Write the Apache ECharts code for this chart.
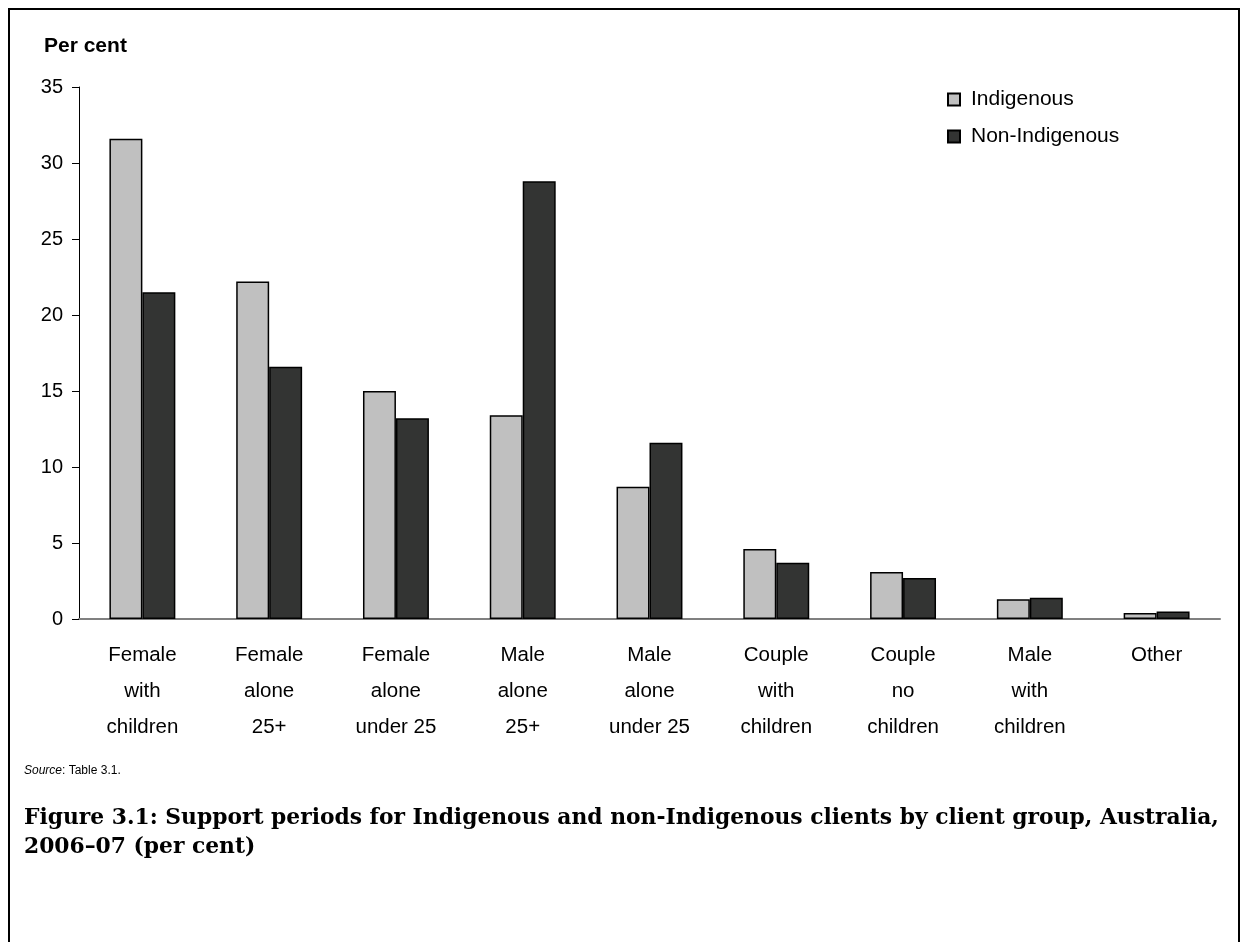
<!DOCTYPE html>
<html>
<head>
<meta charset="utf-8">
<script src="https://cdn.jsdelivr.net/npm/echarts@6/dist/echarts.min.js"></script>
<style>
html,body{margin:0;padding:0;background:#fff;}
#chart{width:1245px;height:942px;}
</style>
</head>
<body>
<div id="chart"></div>
<script>
const categories = ['Female\nwith\nchildren','Female\nalone\n25+','Female\nalone\nunder 25','Male\nalone\n25+','Male\nalone\nunder 25','Couple\nwith\nchildren','Couple\nno\nchildren','Male\nwith\nchildren','Other'];
const indigenous = [31.6, 22.2, 15.0, 13.4, 8.7, 4.6, 3.1, 1.3, 0.4];
const nonIndigenous = [21.5, 16.6, 13.2, 28.8, 11.6, 3.7, 2.7, 1.4, 0.5];
const yTicks = {min: 0, max: 35, interval: 5};

const FONT = "'Liberation Sans', Arial, sans-serif";
const chart = echarts.init(document.getElementById('chart'), null, {renderer: 'canvas'});
chart.setOption({
  animation: false,
  backgroundColor: '#fff',
  textStyle: {fontFamily: FONT, color: '#000'},
  grid: {left: 79, right: 25, top: 87, bottom: 323, containLabel: false},
  legend: {
    orient: 'vertical', left: 942, top: 84,
    itemWidth: 12, itemHeight: 12, itemGap: 16,
    icon: 'rect',
    textStyle: {fontFamily: FONT, fontSize: 21, color: '#000', padding: [0,0,0,6]},
    data: ['Indigenous', 'Non-Indigenous']
  },
  xAxis: {
    type: 'category', data: categories,
    axisLine: {lineStyle: {color: '#808080', width: 2}},
    axisTick: {show: false},
    axisLabel: {fontFamily: FONT, fontSize: 20.5, color: '#000', lineHeight: 36, margin: 18, interval: 0}
  },
  yAxis: {
    type: 'value', min: yTicks.min, max: yTicks.max, interval: yTicks.interval,
    splitLine: {show: false},
    axisLine: {show: true, lineStyle: {color: '#000', width: 1}},
    axisTick: {show: true, length: 7, lineStyle: {color: '#000'}},
    axisLabel: {fontFamily: FONT, fontSize: 20, color: '#000', margin: 16}
  },
  series: [
    {name: 'Indigenous', type: 'bar', data: indigenous, barWidth: '26%', barGap: '0%',
     itemStyle: {color: '#c0c0c0', borderColor: '#000', borderWidth: 1.5}},
    {name: 'Non-Indigenous', type: 'bar', data: nonIndigenous, barWidth: '26%',
     itemStyle: {color: '#333433', borderColor: '#000', borderWidth: 1.5}}
  ],
  graphic: [
    {type: 'rect', shape: {x: 9, y: 9, width: 1230, height: 960}, style: {fill: 'none', stroke: '#000', lineWidth: 2}, silent: true},
    {type: 'text', left: 44, top: 36, style: {text: 'Per cent', font: "bold 21px 'Liberation Sans', Arial, sans-serif", fill: '#000'}},
    {type: 'text', left: 24, top: 765, style: {
      text: '{i|Source}: Table 3.1.',
      rich: {i: {fontStyle: 'italic', fontFamily: FONT, fontSize: 12}},
      fontFamily: FONT, fontSize: 12, fill: '#000'}},
    {type: 'text', left: 24, top: 804, style: {
      text: 'Figure 3.1: Support periods for Indigenous and non-Indigenous clients by client group, Australia,\n2006–07 (per cent)',
      font: "bold 21.8px 'DejaVu Serif', serif", lineHeight: 29, fill: '#000'}}
  ]
});
</script>
</body>
</html>
